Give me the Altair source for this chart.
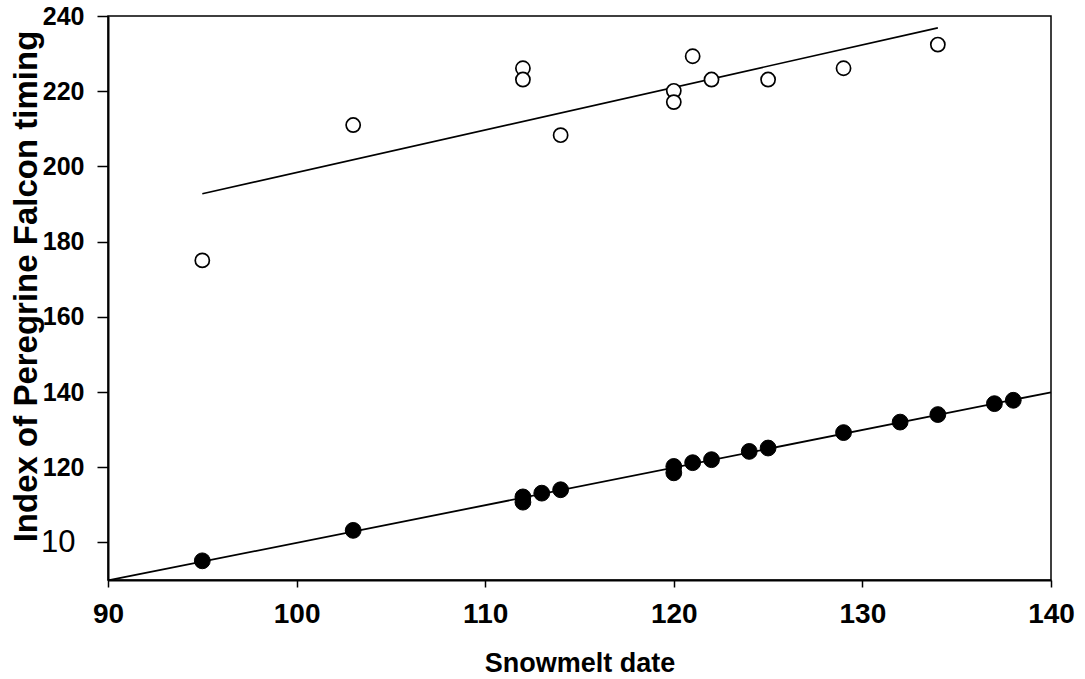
import altair as alt
import pandas as pd

# Open circles (upper series)
open_x = [95, 103, 112, 112, 114, 120, 120, 121, 122, 125, 129, 134]
open_y = [175, 211, 226.1, 223.1, 208.3, 220.1, 217.1, 229.3, 223.1, 223.1, 226.1, 232.4]

# Filled circles (lower series)
filled_x = [95, 103, 112, 112, 113, 114, 120, 120, 121, 122, 124, 125, 129, 132, 134, 137, 138]
filled_y = [95.1, 103.2, 110.7, 112.1, 113.1, 114.0, 120.2, 118.5, 121.2, 122.0, 124.2, 125.1, 129.2, 132.0, 134.0, 136.9, 137.8]

x_ticks = [90, 100, 110, 120, 130, 140]
y_ticks = [100, 120, 140, 160, 180, 200, 220, 240]

open_df = pd.DataFrame({"x": open_x, "y": open_y})
filled_df = pd.DataFrame({"x": filled_x, "y": filled_y})

FONT = "Liberation Sans"

xscale = alt.Scale(domain=[90, 140], nice=False, zero=False)
yscale = alt.Scale(domain=[90, 240], nice=False, zero=False)

xenc = alt.X(
    "x:Q",
    scale=xscale,
    axis=alt.Axis(
        values=x_ticks,
        title="Snowmelt date",
        grid=False,
        tickSize=7,
        tickWidth=1.5,
        tickColor="black",
        domainColor="black",
        domainWidth=2,
        labelFont=FONT,
        labelFontSize=28,
        labelFontWeight="bold",
        labelColor="black",
        labelPadding=13,
        labelFlush=False,
        titleFont=FONT,
        titleFontSize=27,
        titleFontWeight="bold",
        titleColor="black",
        titlePadding=22,
    ),
)

is100 = "datum.value == 100"

yenc = alt.Y(
    "y:Q",
    scale=yscale,
    axis=alt.Axis(
        values=y_ticks,
        title="Index of Peregrine Falcon timing",
        grid=False,
        tickSize=11,
        tickWidth=1.5,
        tickColor="black",
        domainColor="black",
        domainWidth=2,
        labelFont=FONT,
        labelFontSize={"condition": {"test": is100, "value": 31}, "value": 25},
        labelFontWeight={"condition": {"test": is100, "value": "normal"}, "value": "bold"},
        labelPadding={"condition": {"test": is100, "value": 22}, "value": 13},
        labelExpr="datum.value == 100 ? '10' : datum.label",
        labelColor="black",
        labelFlush=False,
        titleFont=FONT,
        titleFontSize=33,
        titleFontWeight="bold",
        titleColor="black",
        titleAngle=270,
        titleX=-82,
        titleY=270,
        titleAlign="center",
        titleBaseline="middle",
    ),
)

open_pts = alt.Chart(open_df).mark_point(
    shape="circle", filled=True, fill="white", stroke="black", strokeWidth=1.7, size=200, opacity=1
).encode(x=xenc, y=yenc)

open_line = alt.Chart(open_df).transform_regression("x", "y").mark_line(
    color="black", strokeWidth=1.6
).encode(x=xenc, y=yenc)

filled_pts = alt.Chart(filled_df).mark_point(
    shape="circle", filled=True, fill="black", stroke="black", strokeWidth=1, size=250, opacity=1
).encode(x=xenc, y=yenc)

filled_line = alt.Chart(filled_df).transform_regression("x", "y", extent=[90, 140]).mark_line(
    color="black", strokeWidth=1.8
).encode(x=xenc, y=yenc)

chart = (
    alt.layer(open_line, open_pts, filled_line, filled_pts)
    .properties(
        width=943,
        height=564,
        autosize=alt.AutoSizeParams(type="none"),
        padding={"left": 108, "top": 16, "right": 34, "bottom": 99},
        background="white",
    )
    .configure_view(stroke="black", strokeWidth=1.5)
)

chart.save("out.html", embed_options={"renderer": "svg", "actions": False})
